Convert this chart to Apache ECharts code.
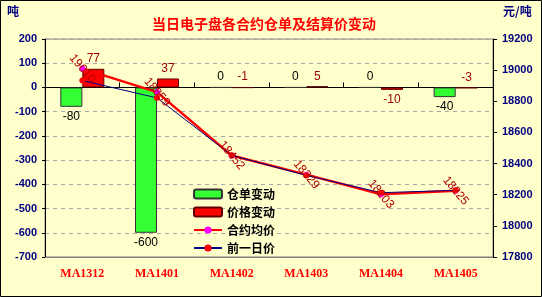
<!DOCTYPE html>
<html><head><meta charset="utf-8">
<script src="https://cdn.jsdelivr.net/npm/echarts@6/dist/echarts.min.js"></script>
<style>html,body{margin:0;padding:0;background:#ffffcc}#c{width:542px;height:297px}</style>
</head><body><div id="c"></div>
<script>
const categories = ['MA1312','MA1401','MA1402','MA1403','MA1404','MA1405'];
const warrantChange = [-80,-600,0,0,0,-40];
const priceChange = [77,37,-1,5,-10,-3];
const avgPrice = [19010,18859,18452,18329,18203,18225];
const prevPrice = [18933,18822,18453,18324,18213,18228];
const leftAxis = {min:-700,max:200,interval:100};
const rightAxis = {min:17800,max:19200,interval:200};

const chart = echarts.init(document.getElementById('c'));
const numFont = 'Liberation Sans';
const cjk = 'Noto Sans CJK SC';

function barLabelPos(v){ return (v < -4) ? 'bottom' : 'top'; }

chart.setOption({
  backgroundColor:'#ffffcc',
  animation:false,
  title:{text:'当日电子盘各合约仓单及结算价变动',left:147,top:12,
    textStyle:{fontFamily:cjk,fontSize:14,fontWeight:'bold',color:'#ff0000',
      textShadowColor:'#500000',textShadowOffsetX:1,textShadowOffsetY:1,textShadowBlur:0}},
  graphic:[{type:'rect',shape:{x:0.5,y:0.5,width:541,height:296},style:{fill:'none',stroke:'#000',lineWidth:1},z:100}],
  grid:{left:45,right:49,top:39,bottom:40,show:true,backgroundColor:'#ffffcc',borderColor:'#808080',borderWidth:1},
  legend:{orient:'vertical',left:188,top:183,itemWidth:28,itemHeight:9,itemGap:6,
    textStyle:{fontFamily:cjk,fontSize:12,fontWeight:'bold',color:'#000'},
    data:['仓单变动','价格变动','合约均价','前一日价']},
  xAxis:[
    {type:'category',data:categories,position:'bottom',
      axisLine:{onZero:false,lineStyle:{color:'#808080'}},axisTick:{show:false},
      axisLabel:{margin:11,fontFamily:'Liberation Serif',fontSize:12,fontWeight:'bold',color:'#ff0000',
        textShadowColor:'#500000',textShadowOffsetX:1,textShadowOffsetY:1,textShadowBlur:0}},
    {type:'category',data:categories,
      axisLine:{onZero:true,onZeroAxisIndex:0,lineStyle:{color:'#000',width:1}},
      axisTick:{show:true,length:5,interval:0,lineStyle:{color:'#000'}},
      axisLabel:{show:false},splitLine:{show:false}}
  ],
  yAxis:[
    {type:'value',min:leftAxis.min,max:leftAxis.max,interval:leftAxis.interval,position:'left',
      name:'吨',nameGap:22,nameTextStyle:{fontFamily:cjk,fontSize:12,fontWeight:'bold',color:'#000080',align:'right',padding:[0,26,0,0]},
      axisLine:{show:true,onZero:false,lineStyle:{color:'#000'}},axisTick:{show:true,length:3,lineStyle:{color:'#000'}},
      axisLabel:{margin:8,fontFamily:numFont,fontSize:11,fontWeight:'bold',color:'#000080',formatter:v=>String(v)},
      splitLine:{show:true,lineStyle:{color:'#a8a8a8',type:[4,4]}}},
    {type:'value',min:rightAxis.min,max:rightAxis.max,interval:rightAxis.interval,position:'right',
      name:'元/吨',nameGap:22,nameTextStyle:{fontFamily:cjk,fontSize:12,fontWeight:'bold',color:'#000080',align:'left',padding:[0,0,0,10]},
      axisLine:{show:true,onZero:false,lineStyle:{color:'#000'}},axisTick:{show:true,length:4,lineStyle:{color:'#000'}},
      axisLabel:{margin:9,fontFamily:numFont,fontSize:11,fontWeight:'bold',color:'#000080',formatter:v=>String(v)},
      splitLine:{show:false}}
  ],
  series:[
    {name:'仓单变动',type:'bar',xAxisIndex:0,yAxisIndex:0,barWidth:22,barGap:'0%',
      itemStyle:{color:'#33ff33',borderColor:'#333333',borderWidth:1},
      data:warrantChange.map(v=>({value:v,label:{position:barLabelPos(v)}})),
      label:{show:true,distance:4,fontFamily:numFont,fontSize:12,color:'#000'}},
    {name:'价格变动',type:'bar',xAxisIndex:0,yAxisIndex:0,barWidth:22,barGap:'0%',
      itemStyle:{color:'#ff0000',borderColor:'#600000',borderWidth:1},
      data:priceChange.map(v=>({value:v,label:{position:barLabelPos(v)}})),
      label:{show:true,distance:4,fontFamily:numFont,fontSize:12,color:'#990000'}},
    {name:'合约均价',type:'line',xAxisIndex:0,yAxisIndex:1,data:avgPrice,
      symbol:'circle',symbolSize:6,
      lineStyle:{color:'#ff0000',width:2.5},itemStyle:{color:'#ff00ff'},
      label:{show:true,position:'inside',rotate:-50,fontFamily:numFont,fontSize:12,color:'#b00000',formatter:p=>String(p.value)}},
    {name:'前一日价',type:'line',xAxisIndex:0,yAxisIndex:1,data:prevPrice,
      symbol:'circle',symbolSize:6,
      lineStyle:{color:'#000080',width:1},itemStyle:{color:'#ff0000'}}
  ]
});
</script></body></html>
